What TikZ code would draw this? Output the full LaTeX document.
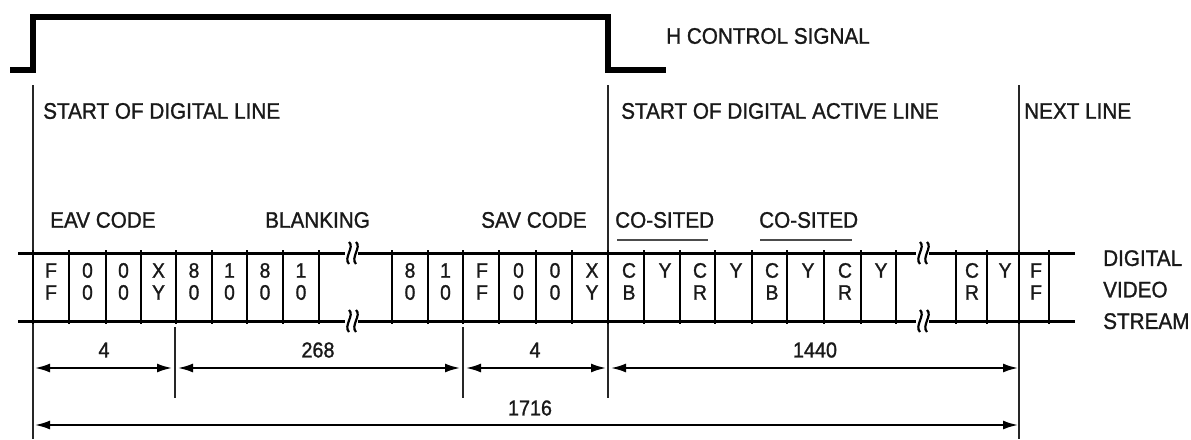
\documentclass[tikz,border=0pt]{standalone}
\usepackage{fontspec}
\setmainfont{Liberation Sans}[FakeStretch=0.92,FakeBold=1.2]
\usetikzlibrary{arrows.meta}
\begin{document}
\begin{tikzpicture}[x=1pt,y=-1pt,
  hsig/.style={line width=6pt,line join=miter,line cap=butt},
  marker/.style={line width=1.6pt,draw=black!85},
  rail/.style={line width=3pt},
  sepline/.style={line width=2.5pt},
  lbl/.style={font=\fontsize{22.5}{26}\selectfont,inner sep=0pt,anchor=west,text=black!90},
  cellt/.style={font=\fontsize{21}{22}\selectfont,inner sep=0pt,text=black!90},
  dimt/.style={font=\fontsize{21.5}{24}\selectfont,inner sep=0pt,text=black!90},
  dimarrow/.style={line width=2pt,{Latex[length=15pt,width=9pt]}-{Latex[length=15pt,width=9pt]}},
  brk/.style={line width=2.2pt},
  uline/.style={line width=2pt,draw=black!70}]
\useasboundingbox (0,0) rectangle (1191,439);

% H control signal
\coordinate (h0) at (10,70);
\coordinate (h1) at (33,70);
\coordinate (h2) at (33,17);
\coordinate (h3) at (608,17);
\coordinate (h4) at (608,70);
\coordinate (h5) at (666,70);
\draw[hsig] (h0) -- (h1) -- (h2) -- (h3) -- (h4) -- (h5);
\node[lbl] (hlab) at (666,36) {H CONTROL SIGNAL};

% vertical markers
\coordinate (m1t) at (33,85);   \coordinate (m1b) at (33,439);
\coordinate (m2t) at (608,85);  \coordinate (m2b) at (608,398);
\coordinate (m3t) at (1019,85); \coordinate (m3b) at (1019,439);
\coordinate (t1t) at (175,327); \coordinate (t1b) at (175,398);
\coordinate (t2t) at (463,327); \coordinate (t2b) at (463,398);
\draw[marker] (m1t) -- (m1b);
\draw[marker] (m2t) -- (m2b);
\draw[marker] (m3t) -- (m3b);
\draw[marker] (t1t) -- (t1b);
\draw[marker] (t2t) -- (t2b);

\node[lbl] (sdl) at (43,111) {START OF DIGITAL LINE};
\node[lbl] (sdal) at (621,111) {START OF DIGITAL ACTIVE LINE};
\node[lbl] (nl) at (1024,111) {NEXT LINE};

\node[lbl] (eav) at (50,220) {EAV CODE};
\node[lbl] (blank) at (265,220) {BLANKING};
\node[lbl] (sav) at (481,220) {SAV CODE};
\node[lbl] (cos1) at (615,220) {CO-SITED};
\node[lbl] (cos2) at (759,220) {CO-SITED};
\draw[uline] (617,240) -- (708,240);
\draw[uline] (760,240) -- (852,240);

% stream rails with breaks
\foreach \y in {253,321}{
  \draw[rail] (18,\y) -- (345,\y);
  \draw[rail] (358,\y) -- (916,\y);
  \draw[rail] (929,\y) -- (1075,\y);
  \foreach \bx in {349,356,920,927}{
    \draw[brk] (\bx,\y-11) .. controls (\bx+6,\y-6) and (\bx-6,\y+5) .. (\bx,\y+11);
  }
}
% separators
\foreach \x in {33,69,106,141,176,212,247,283,319,392,428,463,499,536,572,608,644,680,715,752,787,824,861,896,956,987,1019,1049}{
  \draw[sepline] (\x,250) -- (\x,324);
}
% cell texts
\foreach \x/\a/\b in {51/F/F,87.5/0/0,123.5/0/0,158.5/X/Y,194/8/0,229.5/1/0,265/8/0,301/1/0,410/8/0,445.5/1/0,482/F/F,518.5/0/0,555/0/0,592/X/Y,629/C/B,700/C/R,772/C/B,845/C/R,972/C/R,1036/F/F}{
  \node[cellt] at (\x,270.5) {\a};
  \node[cellt] at (\x,292.5) {\b};
}
\foreach \x in {665,736,808,881,1005}{
  \node[cellt] at (\x,270.5) {Y};
}

\node[lbl,align=left,anchor=north west,font=\fontsize{22.5}{31.5}\selectfont] (dvs) at (1103,250) {DIGITAL\\VIDEO\\STREAM};

% dimensions
\coordinate (d1a) at (35,368);  \coordinate (d1b) at (172,368);
\coordinate (d2a) at (178,368); \coordinate (d2b) at (460,368);
\coordinate (d3a) at (466,368); \coordinate (d3b) at (606,368);
\coordinate (d4a) at (611,368); \coordinate (d4b) at (1018,368);
\coordinate (d5a) at (35,425);  \coordinate (d5b) at (1018,425);
\draw[dimarrow] (d1a) -- (d1b);
\draw[dimarrow] (d2a) -- (d2b);
\draw[dimarrow] (d3a) -- (d3b);
\draw[dimarrow] (d4a) -- (d4b);
\draw[dimarrow] (d5a) -- (d5b);
\node[dimt] (n4a) at (104,350) {4};
\node[dimt] (n268) at (318,350) {268};
\node[dimt] (n4b) at (535,350) {4};
\node[dimt] (n1440) at (815,350) {1440};
\node[dimt] (n1716) at (530,408) {1716};
\end{tikzpicture}
\end{document}
